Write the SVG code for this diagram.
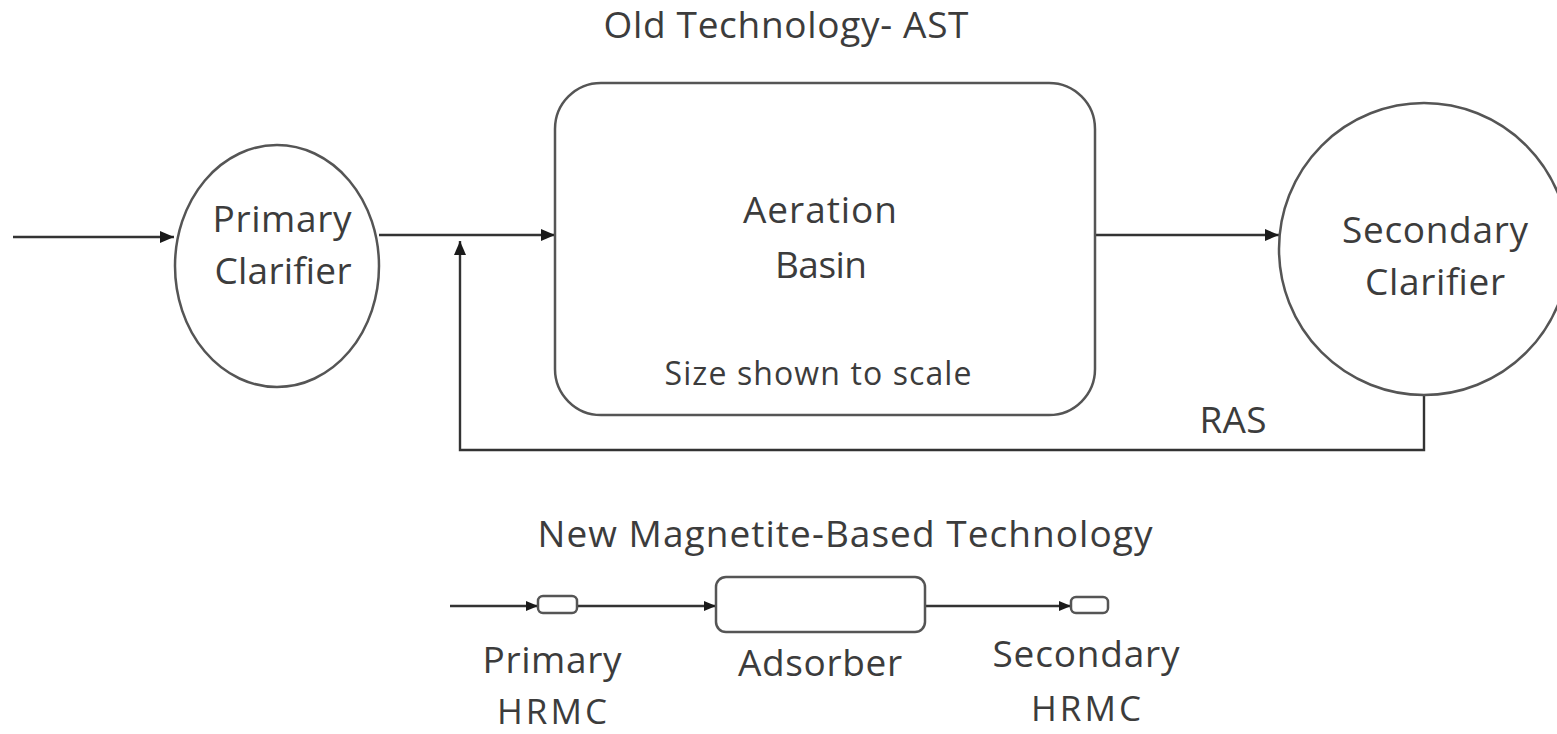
<svg xmlns="http://www.w3.org/2000/svg" width="1557" height="734" viewBox="0 0 1557 734">
<defs>
<style>
.t{font-family:"Open Sans","Noto Sans","DejaVu Sans",sans-serif;font-size:37px;fill:#3c3c3c;text-anchor:middle}
.s{font-size:32px}
.h{font-size:35px}
.shape{fill:#ffffff;stroke:#555555;stroke-width:2.5}
.conn{fill:none;stroke:#333333;stroke-width:2.4}
</style>
<marker id="arr" markerUnits="userSpaceOnUse" viewBox="0 0 14 12" markerWidth="14" markerHeight="12" refX="14" refY="6" orient="auto">
<path d="M0,0 L14,6 L0,12 z" fill="#1a1a1a"/>
</marker>
<marker id="arrs" markerUnits="userSpaceOnUse" viewBox="0 0 12 10" markerWidth="12" markerHeight="10" refX="12" refY="5" orient="auto">
<path d="M0,0 L12,5 L0,10 z" fill="#1a1a1a"/>
</marker>
</defs>
<rect width="1557" height="734" fill="#ffffff"/>

<text class="t" x="786" y="38" textLength="365">Old Technology- AST</text>

<g id="connectors">
<line class="conn" x1="13" y1="237" x2="174" y2="237" marker-end="url(#arr)"/>
<line class="conn" x1="379" y1="235" x2="555" y2="235" marker-end="url(#arr)"/>
<line class="conn" x1="1095" y1="235" x2="1279" y2="235" marker-end="url(#arr)"/>
<polyline class="conn" points="1424,395 1424,450 460,450 460,241" marker-end="url(#arr)"/>
<line class="conn" x1="450" y1="606" x2="538" y2="606" marker-end="url(#arrs)"/>
<line class="conn" x1="577" y1="606" x2="716" y2="606" marker-end="url(#arrs)"/>
<line class="conn" x1="925" y1="606" x2="1071" y2="606" marker-end="url(#arrs)"/>
</g>

<g id="primary-clarifier">
<ellipse class="shape" cx="277" cy="266" rx="102" ry="121"/>
<text class="t" x="282" y="232" textLength="139">Primary</text>
<text class="t" x="283" y="284" textLength="137">Clarifier</text>
</g>

<g id="aeration-basin">
<rect class="shape" x="555" y="83" width="540" height="332" rx="46" ry="46"/>
<text class="t" x="820" y="223" textLength="154">Aeration</text>
<text class="t" x="821" y="278" textLength="92">Basin</text>
<text class="t s" x="818" y="385" textLength="307">Size shown to scale</text>
</g>

<g id="secondary-clarifier">
<ellipse class="shape" cx="1424" cy="249" rx="145" ry="146"/>
<text class="t" x="1435" y="243" textLength="186">Secondary</text>
<text class="t" x="1435" y="295" textLength="140">Clarifier</text>
</g>

<text id="ras-label" class="t" x="1233" y="433" textLength="67">RAS</text>

<text class="t" x="845" y="547" textLength="615">New Magnetite-Based Technology</text>

<g id="primary-hrmc">
<rect class="shape" x="538" y="596" width="39" height="17" rx="5" ry="5"/>
<text class="t" x="552" y="673" textLength="139">Primary</text>
<text class="t h" x="552" y="724" textLength="110">HRMC</text>
</g>

<g id="adsorber">
<rect class="shape" x="716" y="577" width="209" height="55" rx="10" ry="10"/>
<text class="t" x="820" y="676" textLength="164">Adsorber</text>
</g>

<g id="secondary-hrmc">
<rect class="shape" x="1071" y="597" width="37" height="16" rx="5" ry="5"/>
<text class="t" x="1086" y="667" textLength="187">Secondary</text>
<text class="t h" x="1086" y="721" textLength="110">HRMC</text>
</g>
</svg>
